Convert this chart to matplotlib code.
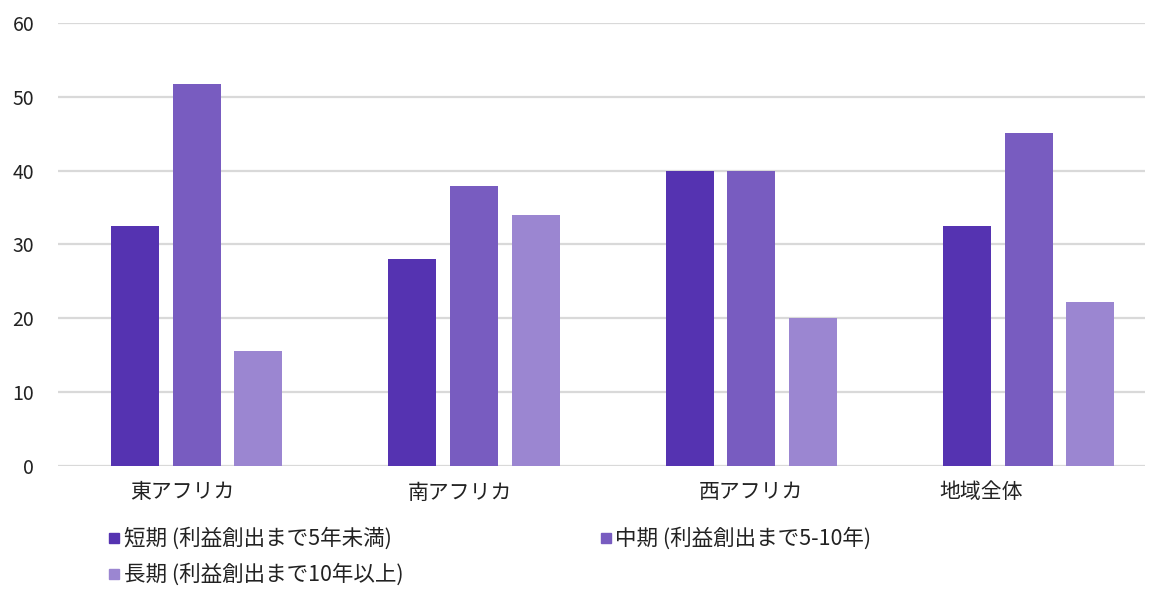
import matplotlib
matplotlib.use("Agg")
import matplotlib.pyplot as plt
from matplotlib.lines import Line2D
import numpy as np

plt.rcParams['font.family'] = ['Noto Sans CJK JP', 'DejaVu Sans']

# data
regions = ["東アフリカ", "南アフリカ", "西アフリカ", "地域全体"]
series = ["短期 (利益創出まで5年未満)", "中期 (利益創出まで5-10年)", "長期 (利益創出まで10年以上)"]
short_term = [32.5, 28, 40, 32.5]
mid_term = [51.8, 37.9, 40, 45.1]
long_term = [15.5, 34, 20, 22.2]
colors = ["#5533b1", "#785cc0", "#9b86d1"]

fig = plt.figure(figsize=(11.59, 5.89), dpi=100)
ax = fig.add_axes([0.05, 0.209, 0.938, 0.752])

x = np.arange(len(regions))
step = 0.222
width = 0.173
for i, vals in enumerate([short_term, mid_term, long_term]):
    ax.bar(x + (i - 1) * step, vals, width, color=colors[i], zorder=3)

ax.set_ylim(0, 60)
ax.set_xlim(-0.5, 3.42)
ax.set_yticks(range(0, 61, 10))
ax.tick_params(axis='y', length=0, labelsize=14, pad=17, labelcolor="#222222")
ax.set_xticks([])
ax.grid(axis='y', color="#d9d9d9", linewidth=1.6, zorder=0)
for s in ax.spines.values():
    s.set_visible(False)

# category labels sit a little left of their groups
label_shift = [-0.05, -0.05, 0.0, -0.17]
for xi, name, dx in zip(x, regions, label_shift):
    ax.text(xi + dx, -3.6, name, ha='center', va='center', fontsize=15,
            color="#222222")

# legend entries placed one by one
legend_pos = [(0.094, 0.085), (0.518, 0.085), (0.094, 0.024)]
for name, col, pos in zip(series, colors, legend_pos):
    h = Line2D([], [], marker='s', linestyle='none', markersize=7, color=col)
    fig.legend([h], [name], loc='center left', bbox_to_anchor=pos, frameon=False,
               fontsize=15.5, handlelength=0.5, handletextpad=0.2,
               borderpad=0, borderaxespad=0, labelcolor="#222222")

fig.savefig("out.png", dpi=100)
